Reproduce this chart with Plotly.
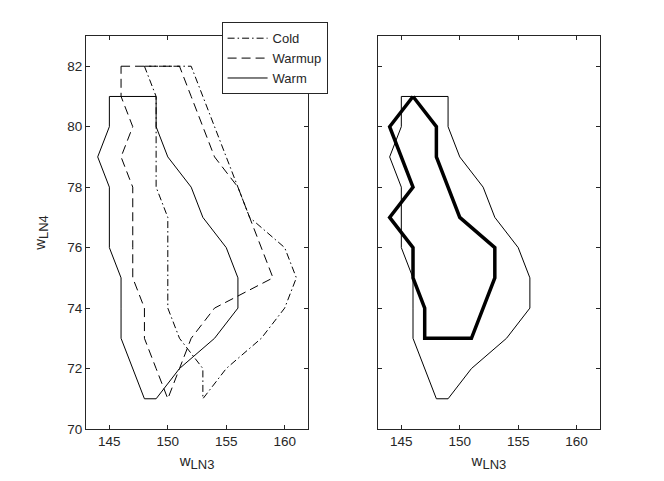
import plotly.graph_objects as go

# Data (w_LN3, w_LN4)
cold_x = [148, 152, 153, 154, 155, 156, 157, 160, 161, 160, 158, 155, 153, 153, 151, 150, 150, 150, 150, 149, 149, 149, 149, 148]
cold_y = [82, 82, 81, 80, 79, 78, 77, 76, 75, 74, 73, 72, 71, 72, 73, 74, 75, 76, 77, 78, 79, 80, 81, 82]

warmup_x = [146, 151, 152, 153, 154, 156, 157, 158, 159, 154, 152, 151, 150, 149, 148, 148, 147, 147, 147, 147, 146, 147, 146, 146]
warmup_y = [82, 82, 81, 80, 79, 78, 77, 76, 75, 74, 73, 72, 71, 72, 73, 74, 75, 76, 77, 78, 79, 80, 81, 82]

warm_x = [145, 149, 149, 150, 152, 153, 155, 156, 156, 154, 151, 149, 148, 146, 146, 146, 145, 145, 144, 145, 145]
warm_y = [81, 81, 80, 79, 78, 77, 76, 75, 74, 73, 72, 71, 71, 73, 74, 75, 76, 78, 79, 80, 81]

thick_x = [146, 148, 148, 150, 153, 153, 151, 147, 147, 146, 146, 144, 146, 144, 146]
thick_y = [81, 80, 79, 77, 76, 75, 73, 73, 74, 75, 76, 77, 78, 80, 81]

x_ticks = [145, 150, 155, 160]
y_ticks = [70, 72, 74, 76, 78, 80, 82]

axcol = "#262626"
font = dict(family="Liberation Sans, Arial, sans-serif", size=13.5, color=axcol)
lfont = dict(family="Liberation Sans, Arial, sans-serif", size=13, color=axcol)
tfont = dict(family="Liberation Sans, Arial, sans-serif", size=15, color=axcol)
xtitle = "w<sub><span style='font-size:13px'>LN3</span></sub>"
ytitle = "w<sub><span style='font-size:13px'>LN4</span></sub>"

fig = go.Figure()
fig.add_trace(go.Scatter(x=cold_x, y=cold_y, mode="lines", name="Cold",
                         line=dict(color="black", width=1, dash="7px,3px,1.5px,3px"),
                         xaxis="x", yaxis="y"))
fig.add_trace(go.Scatter(x=warmup_x, y=warmup_y, mode="lines", name="Warmup",
                         line=dict(color="black", width=1, dash="9px,5px"),
                         xaxis="x", yaxis="y"))
fig.add_trace(go.Scatter(x=warm_x, y=warm_y, mode="lines", name="Warm",
                         line=dict(color="black", width=1),
                         xaxis="x", yaxis="y"))
fig.add_trace(go.Scatter(x=warm_x, y=warm_y, mode="lines", showlegend=False,
                         line=dict(color="black", width=1),
                         xaxis="x2", yaxis="y2"))
fig.add_trace(go.Scatter(x=thick_x, y=thick_y, mode="lines", showlegend=False,
                         line=dict(color="black", width=3.5),
                         xaxis="x2", yaxis="y2"))

common = dict(showline=True, mirror="ticks", linecolor=axcol, linewidth=1,
              ticks="inside", ticklen=4, tickcolor=axcol, showgrid=False,
              zeroline=False, tickfont=font, automargin=False)

fig.update_layout(
    width=664, height=481,
    paper_bgcolor="white", plot_bgcolor="white",
    margin=dict(l=78, r=72, t=28, b=60, autoexpand=False),
    font=font,
    xaxis=dict(domain=[0, 0.432], range=[143, 162], tickvals=x_ticks,
               title=dict(text=xtitle, font=tfont, standoff=7), **common),
    yaxis=dict(domain=[0, 1], range=[70, 83], tickvals=y_ticks,
               title=dict(text=ytitle, font=tfont, standoff=18), **common),
    xaxis2=dict(domain=[0.568, 1], range=[143, 162], tickvals=x_ticks, anchor="y2",
                title=dict(text=xtitle, font=tfont, standoff=7), **common),
    yaxis2=dict(domain=[0, 1], range=[70, 83], tickvals=y_ticks, anchor="x2",
                showticklabels=False, **common),
    legend=dict(x=0.470, y=1.035, xanchor="right", yanchor="top",
                bgcolor="white", bordercolor=axcol, borderwidth=1,
                font=lfont, tracegroupgap=0, itemwidth=40),
    showlegend=True,
)

fig.write_html("out.html")
